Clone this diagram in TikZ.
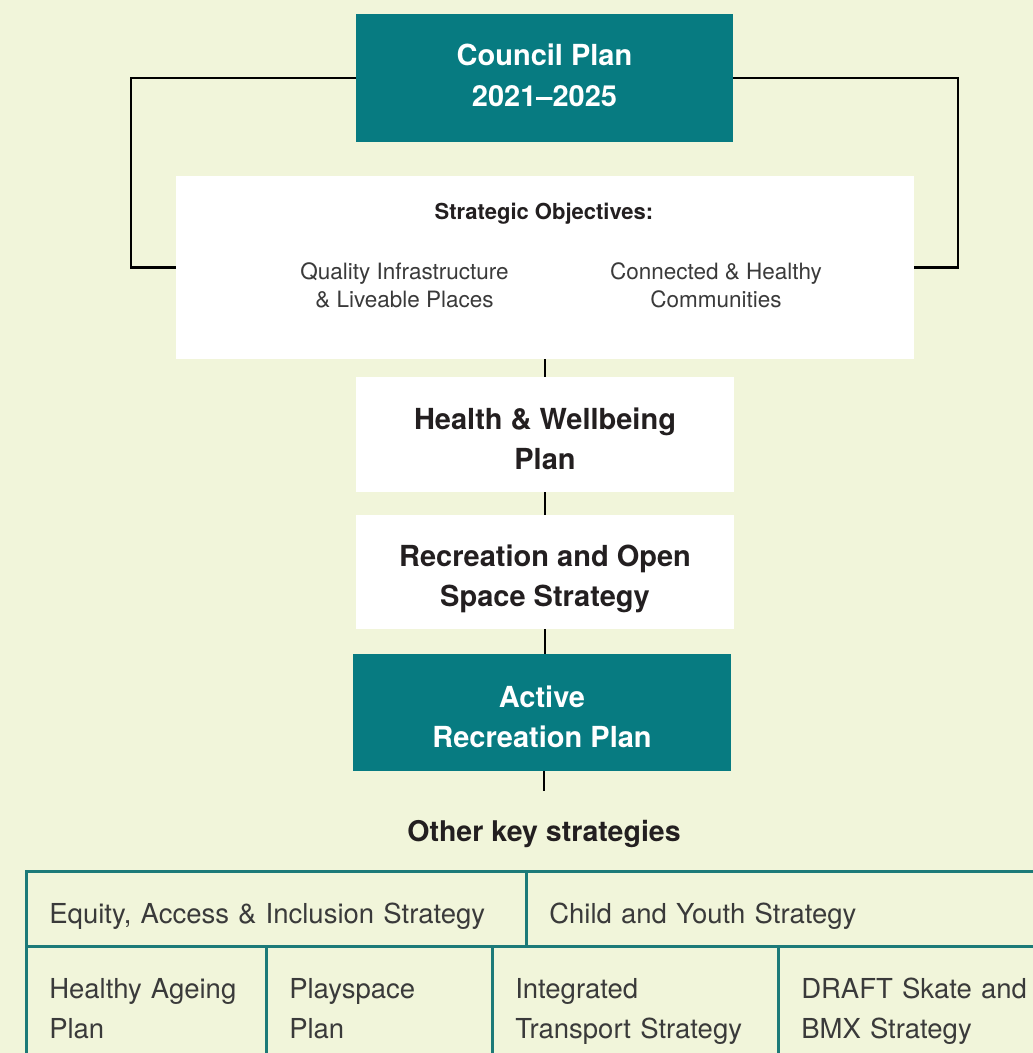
\documentclass[tikz,border=0pt]{standalone}
\usepackage{fontspec}
\setmainfont{TeX Gyre Heros}
\definecolor{bgcol}{RGB}{241,245,218}
\definecolor{tealbox}{RGB}{7,123,129}
\definecolor{ruleteal}{RGB}{28,122,120}
\definecolor{ink}{RGB}{35,31,32}
\definecolor{soft}{RGB}{58,58,58}
\newcommand\boxhi{\rule{0pt}{35pt}}
\newcommand\boxlo{\rule[-5pt]{0pt}{5pt}}
\newcommand\councilhi{\rule{0pt}{28.5pt}}
\newcommand\councillo{\rule[-12.5pt]{0pt}{12.5pt}}
\newcommand\rhi{\rule{0pt}{29.5pt}}
\newcommand\rlo{\rule[-10.5pt]{0pt}{10.5pt}}
\newcommand\rowone{\rule[-5.5pt]{0pt}{40pt}}
\begin{document}
\begin{tikzpicture}[x=1pt,y=-1pt,
  darkbox/.style={fill=tealbox, text=white, inner sep=0pt, align=center,
    font=\fontsize{29}{41}\selectfont\bfseries},
  lightbox/.style={fill=white, text=ink, inner sep=0pt, align=center,
    font=\fontsize{29}{40}\selectfont\bfseries},
  objtext/.style={text=soft, align=center, inner sep=0pt,
    font=\fontsize{22.5}{28}\selectfont},
  conn/.style={draw=black, line width=2.5pt},
  cell/.style={draw=ruleteal, line width=2.5pt, anchor=north west, inner ysep=0pt,
    inner xsep=23pt, align=left, text=soft,
    font=\fontsize{27.5}{40}\selectfont}
]
\clip (0,0) rectangle (1033,1053);
\fill[bgcol] (0,0) rectangle (1033,1053);

% main boxes
\node[darkbox, minimum width=377pt, minimum height=128pt] (council) at (544.5,78) {\councilhi Council Plan\\2021–2025\councillo};
\node[fill=white, inner sep=0pt, minimum width=738pt, minimum height=183pt] (strat) at (545,267.5) {};
\node[text=ink, inner sep=0pt, font=\fontsize{22}{26}\selectfont\bfseries] (stitle) at (544,214) {Strategic Objectives:};
\node[objtext] (obj1) at (404.5,285) {Quality Infrastructure\\\& Liveable Places};
\node[objtext] (obj2) at (716,285) {Connected \& Healthy\\Communities};
\node[lightbox, minimum width=378pt, minimum height=115pt] (health) at (545,434.5) {\boxhi Health \& Wellbeing\\Plan\boxlo};
\node[lightbox, minimum width=378pt, minimum height=114pt] (rec) at (545,572) {\boxhi Recreation and Open\\Space Strategy\boxlo};
\node[darkbox, minimum width=378pt, minimum height=117pt, font=\fontsize{29}{40}\selectfont\bfseries] (active) at (542,712.5) {\boxhi Active\\Recreation Plan\boxlo};
\node[text=ink, inner sep=0pt, font=\fontsize{28.5}{34}\selectfont\bfseries] (other) at (544,834) {Other key strategies};

% bracket
\coordinate (bl) at (131,267.5);
\coordinate (br) at (958,267.5);
\draw[conn] (council.west) -| (bl) -- (strat.west);
\draw[conn] (council.east) -| (br) -- (strat.east);

% connectors
\draw[conn] (strat.south) -- (health.north);
\draw[conn] (health.south) -- (rec.north);
\draw[conn] (rec.south) -- (rec.south |- active.north);
\coordinate (aend) at (544,791);
\draw[conn] (aend |- active.south) -- (aend);

% table
\node[cell, minimum width=500pt, minimum height=75pt, text width=454pt] (c1) at (25,870) {\rowone Equity, Access \& Inclusion Strategy};
\node[cell, minimum width=540pt, minimum height=75pt, text width=494pt] (c2) at (525,870) {\rowone Child and Youth Strategy};
\node[cell, minimum width=240pt, minimum height=125pt, text width=194pt] (c3) at (25,945) {\rhi Healthy Ageing\\Plan\rlo};
\node[cell, minimum width=226pt, minimum height=125pt, text width=180pt] (c4) at (265,945) {\rhi Playspace\\Plan\rlo};
\node[cell, minimum width=286pt, minimum height=125pt, text width=240pt] (c5) at (491,945) {\rhi Integrated\\Transport Strategy\rlo};
\node[cell, minimum width=290pt, minimum height=125pt, text width=244pt] (c6) at (777,945) {\rhi DRAFT Skate and\\BMX Strategy\rlo};
\end{tikzpicture}
\end{document}
